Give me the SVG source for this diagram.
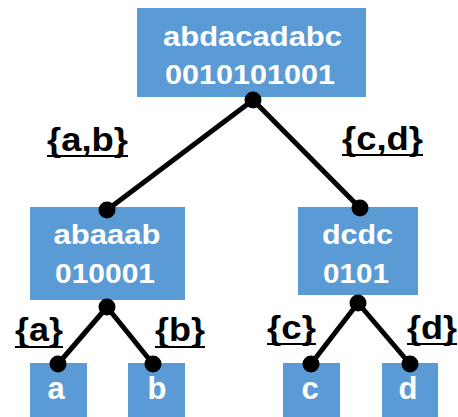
<svg xmlns="http://www.w3.org/2000/svg" width="458" height="417" viewBox="0 0 458 417">
<style>
.box{fill:#5b9bd5}
.t{font-family:"Liberation Sans",Arial,sans-serif;font-weight:bold;fill:#fff;text-anchor:middle}
.bt{font-size:28px}
.lt{font-size:31px}
.lab{font-family:"Liberation Sans",Arial,sans-serif;font-weight:bold;font-size:33px;fill:#000;text-anchor:middle}
.ul{stroke:#000;stroke-width:2}
.edge{stroke:#000;stroke-width:5;fill:none;stroke-linecap:round}
.dot{fill:#000}
</style>
<rect width="458" height="417" fill="#fff"/>
<g id="root">
<rect class="box" x="137" y="8" width="229" height="89"/>
<text class="t bt" x="252.5" y="46" textLength="179" lengthAdjust="spacingAndGlyphs">abdacadabc</text>
<text class="t bt" x="250" y="84" textLength="170" lengthAdjust="spacingAndGlyphs">0010101001</text>
</g>
<g id="left">
<rect class="box" x="30" y="207" width="155" height="93"/>
<text class="t bt" x="107" y="244" textLength="107" lengthAdjust="spacingAndGlyphs">abaaab</text>
<text class="t bt" x="105" y="283" textLength="100" lengthAdjust="spacingAndGlyphs">010001</text>
</g>
<g id="right">
<rect class="box" x="298" y="207" width="120" height="88"/>
<text class="t bt" x="357.5" y="244" textLength="71" lengthAdjust="spacingAndGlyphs">dcdc</text>
<text class="t bt" x="356" y="283" textLength="66" lengthAdjust="spacingAndGlyphs">0101</text>
</g>
<g id="leaf-a">
<rect class="box" x="30" y="363" width="57" height="60"/>
<text class="t lt" x="56" y="399">a</text>
</g>
<g id="leaf-b">
<rect class="box" x="128" y="363" width="57" height="60"/>
<text class="t lt" x="157" y="399">b</text>
</g>
<g id="leaf-c">
<rect class="box" x="283" y="363" width="57" height="60"/>
<text class="t lt" x="310" y="399">c</text>
</g>
<g id="leaf-d">
<rect class="box" x="382" y="363" width="56" height="60"/>
<text class="t lt" x="408" y="399">d</text>
</g>
<g id="connectors">
<line class="edge" x1="253" y1="100" x2="107" y2="210"/>
<line class="edge" x1="253" y1="100" x2="360" y2="208"/>
<line class="edge" x1="107" y1="307" x2="58" y2="364"/>
<line class="edge" x1="107" y1="307" x2="153" y2="364"/>
<line class="edge" x1="358" y1="303" x2="311" y2="364"/>
<line class="edge" x1="358" y1="303" x2="410" y2="364"/>
<circle class="dot" cx="253" cy="100" r="8.5"/>
<circle class="dot" cx="107" cy="210" r="8.5"/>
<circle class="dot" cx="360" cy="208" r="8.5"/>
<circle class="dot" cx="107" cy="307" r="8.5"/>
<circle class="dot" cx="358" cy="303" r="8.5"/>
<circle class="dot" cx="58" cy="364" r="8.5"/>
<circle class="dot" cx="153" cy="364" r="8.5"/>
<circle class="dot" cx="311" cy="364" r="8.5"/>
<circle class="dot" cx="410" cy="364" r="8.5"/>
</g>
<g id="labels">
<text class="lab" x="87.5" y="151" textLength="81" lengthAdjust="spacingAndGlyphs">{a,b}</text>
<line class="ul" x1="47" y1="156" x2="128" y2="156"/>
<text class="lab" x="382.5" y="150" textLength="81" lengthAdjust="spacingAndGlyphs">{c,d}</text>
<line class="ul" x1="342" y1="155" x2="423" y2="155"/>
<text class="lab" x="39" y="341" textLength="48" lengthAdjust="spacingAndGlyphs">{a}</text>
<line class="ul" x1="15" y1="347" x2="63" y2="347"/>
<text class="lab" x="180" y="341" textLength="50" lengthAdjust="spacingAndGlyphs">{b}</text>
<line class="ul" x1="155" y1="347" x2="205" y2="347"/>
<text class="lab" x="291.5" y="339" textLength="49" lengthAdjust="spacingAndGlyphs">{c}</text>
<line class="ul" x1="267" y1="344" x2="316" y2="344"/>
<text class="lab" x="432" y="339" textLength="50" lengthAdjust="spacingAndGlyphs">{d}</text>
<line class="ul" x1="407" y1="344" x2="457" y2="344"/>
</g>
</svg>
